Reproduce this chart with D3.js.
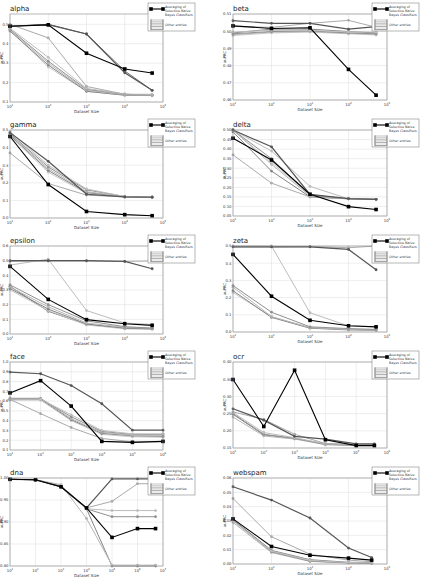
<!DOCTYPE html>
<html>
<head>
<meta charset="utf-8">
<script src="https://cdn.jsdelivr.net/npm/d3@7"></script>
<style>
body { margin: 0; background: #fff; }
text { font-family: "DejaVu Sans", sans-serif; }
</style>
</head>
<body>
<div id="chart"></div>
<script>
// dataset sizes (x values)
var sizes5 = [10, 100, 1000, 10000, 52000];
var sizesWeb = [10, 100, 1000, 10000, 40000];
var sizesFace = [10, 100, 1000, 10000, 100000, 1000000];
var sizesOcr = [10, 100, 1000, 10000, 100000, 390000];
var sizesDna = [10, 100, 1000, 10000, 100000, 1000000, 5100000];

// auPRC values: "avg" = Averaging of Selective Naive Bayes Classifiers, "other" = other entries
var alphaAvg = [0.49, 0.497, 0.351, 0.27, 0.249];
var alphaOther = [
  [0.49, 0.498, 0.45, 0.25, 0.16],
  [0.50, 0.43, 0.18, 0.14, 0.135],
  [0.48, 0.33, 0.17, 0.14, 0.14],
  [0.475, 0.31, 0.165, 0.14, 0.135],
  [0.47, 0.30, 0.16, 0.138, 0.135],
  [0.465, 0.29, 0.155, 0.135, 0.135],
  [0.47, 0.28, 0.155, 0.135, 0.133],
  [0.49, 0.50, 0.45, 0.26, 0.16]
];
var betaAvg = [0.5031, 0.5016, 0.502, 0.4778, 0.4628];
var betaOther = [
  [0.5061, 0.5046, 0.5046, 0.5012, 0.5027],
  [0.5028, 0.5022, 0.5046, 0.5063, 0.5023],
  [0.4995, 0.5005, 0.5005, 0.4996, 0.4995],
  [0.4985, 0.4998, 0.5002, 0.4990, 0.4985],
  [0.4980, 0.4995, 0.4998, 0.4988, 0.4982],
  [0.4990, 0.5012, 0.5012, 0.4998, 0.4990],
  [0.4975, 0.4990, 0.4995, 0.4985, 0.4978]
];
var gammaAvg = [0.463, 0.19, 0.037, 0.019, 0.013];
var gammaOther = [
  [0.485, 0.322, 0.135, 0.12, 0.118],
  [0.37, 0.196, 0.13, 0.12, 0.118],
  [0.49, 0.30, 0.165, 0.122, 0.118],
  [0.48, 0.29, 0.16, 0.122, 0.118],
  [0.475, 0.28, 0.15, 0.12, 0.118],
  [0.47, 0.27, 0.145, 0.12, 0.118],
  [0.465, 0.26, 0.14, 0.12, 0.118]
];
var deltaAvg = [0.457, 0.343, 0.164, 0.099, 0.084];
var deltaOther = [
  [0.50, 0.412, 0.163, 0.141, 0.137],
  [0.37, 0.222, 0.15, 0.14, 0.137],
  [0.50, 0.39, 0.205, 0.14, 0.137],
  [0.50, 0.35, 0.16, 0.14, 0.137],
  [0.50, 0.32, 0.155, 0.14, 0.137],
  [0.49, 0.285, 0.15, 0.14, 0.137],
  [0.50, 0.33, 0.16, 0.14, 0.137]
];
var epsilonAvg = [0.461, 0.236, 0.098, 0.07, 0.059];
var epsilonOther = [
  [0.50, 0.50, 0.50, 0.495, 0.445],
  [0.495, 0.497, 0.497, 0.495, 0.498],
  [0.47, 0.51, 0.16, 0.075, 0.065],
  [0.335, 0.20, 0.09, 0.05, 0.04],
  [0.32, 0.185, 0.075, 0.045, 0.04],
  [0.31, 0.17, 0.068, 0.04, 0.035],
  [0.30, 0.16, 0.062, 0.035, 0.032],
  [0.325, 0.155, 0.065, 0.04, 0.035]
];
var zetaAvg = [0.451, 0.208, 0.068, 0.036, 0.03];
var zetaOther = [
  [0.495, 0.495, 0.495, 0.48, 0.362],
  [0.495, 0.495, 0.497, 0.49, 0.50],
  [0.50, 0.50, 0.112, 0.035, 0.03],
  [0.27, 0.115, 0.03, 0.02, 0.015],
  [0.26, 0.09, 0.025, 0.015, 0.012],
  [0.24, 0.085, 0.022, 0.012, 0.01],
  [0.23, 0.088, 0.025, 0.015, 0.012]
];
var faceAvg = [0.684, 0.809, 0.549, 0.188, 0.178, 0.188];
var faceOther = [
  [0.897, 0.88, 0.759, 0.573, 0.303, 0.303],
  [0.617, 0.472, 0.33, 0.218, 0.184, 0.184],
  [0.62, 0.62, 0.46, 0.30, 0.265, 0.265],
  [0.625, 0.625, 0.44, 0.29, 0.26, 0.26],
  [0.63, 0.63, 0.42, 0.28, 0.25, 0.25],
  [0.62, 0.62, 0.41, 0.27, 0.245, 0.24],
  [0.61, 0.61, 0.40, 0.26, 0.235, 0.23]
];
var ocrAvg = [0.349, 0.2125, 0.376, 0.174, 0.157, 0.157];
var ocrOther = [
  [0.264, 0.231, 0.184, 0.176, 0.162, 0.162],
  [0.255, 0.233, 0.19, 0.163, 0.16, 0.16],
  [0.253, 0.195, 0.18, 0.162, 0.16, 0.16],
  [0.25, 0.19, 0.178, 0.16, 0.158, 0.158],
  [0.24, 0.185, 0.176, 0.16, 0.157, 0.157],
  [0.248, 0.188, 0.178, 0.162, 0.159, 0.158]
];
var dnaAvg = [0.997, 0.996, 0.98, 0.932, 0.865, 0.885, 0.885];
var dnaOther = [
  [0.997, 0.996, 0.98, 0.932, 0.998, 0.998, 0.998],
  [0.997, 0.996, 0.982, 0.932, 0.947, 0.987, 0.987],
  [0.997, 0.996, 0.983, 0.93, 0.926, 0.926, 0.926],
  [0.997, 0.996, 0.98, 0.93, 0.912, 0.912, 0.912],
  [0.997, 0.996, 0.985, 0.908, 0.802, 0.802, 0.802],
  [0.997, 0.996, 0.98, 0.93, 0.80, 0.80, 0.80]
];
var webspamAvg = [0.0315, 0.0122, 0.0061, 0.0041, 0.0027];
var webspamOther = [
  [0.0539, 0.0446, 0.0321, 0.0111, 0.0045],
  [0.0457, 0.019, 0.0068, 0.0027, 0.0016],
  [0.030, 0.009, 0.0025, 0.001, 0.0008],
  [0.0305, 0.0085, 0.002, 0.0008, 0.0005],
  [0.029, 0.008, 0.0018, 0.0007, 0.0005],
  [0.031, 0.0095, 0.003, 0.0012, 0.001]
];

// axis ticks
var exps5 = [1, 2, 3, 4, 5];
var exps6 = [1, 2, 3, 4, 5, 6];
var exps7 = [1, 2, 3, 4, 5, 6, 7];
var titles = ["alpha", "beta", "gamma", "delta", "epsilon", "zeta", "face", "ocr", "dna", "webspam"];
var legendAvg = ["Averaging of", "Selective Naive", "Bayes Classifiers"];
var legendOther = "Other entries";

// shades used for the "other entries"
var shades = ["#555", "#aaa", "#bdbdbd", "#909090", "#b5b5b5", "#858585", "#c8c8c8", "#707070"];

var panels = [
  {x: sizes5, avg: alphaAvg, other: alphaOther, yd: [0.1, 0.553], yt: d3.range(0.1, 0.51, 0.1), fmt: ".1f", xe: exps5},
  {x: sizes5, avg: betaAvg, other: betaOther, yd: [0.46, 0.51], yt: d3.range(0.46, 0.5101, 0.01), fmt: ".2f", xe: exps5},
  {x: sizes5, avg: gammaAvg, other: gammaOther, yd: [0, 0.5], yt: d3.range(0, 0.51, 0.1), fmt: ".1f", xe: exps5},
  {x: sizes5, avg: deltaAvg, other: deltaOther, yd: [0.05, 0.5], yt: d3.range(0.05, 0.501, 0.05), fmt: ".2f", xe: exps5},
  {x: sizes5, avg: epsilonAvg, other: epsilonOther, yd: [0, 0.6], yt: d3.range(0, 0.61, 0.1), fmt: ".1f", xe: exps5},
  {x: sizes5, avg: zetaAvg, other: zetaOther, yd: [0, 0.5], yt: d3.range(0, 0.51, 0.1), fmt: ".1f", xe: exps5},
  {x: sizesFace, avg: faceAvg, other: faceOther, yd: [0.1, 1.0], yt: d3.range(0.1, 1.01, 0.1), fmt: ".1f", xe: exps6},
  {x: sizesOcr, avg: ocrAvg, other: ocrOther, yd: [0.15, 0.40], yt: d3.range(0.15, 0.401, 0.05), fmt: ".2f", xe: exps6},
  {x: sizesDna, avg: dnaAvg, other: dnaOther, yd: [0.80, 1.0], yt: d3.range(0.80, 1.001, 0.05), fmt: ".2f", xe: exps7},
  {x: sizesWeb, avg: webspamAvg, other: webspamOther, yd: [0, 0.06], yt: d3.range(0, 0.0601, 0.01), fmt: ".2f", xe: exps5}
];

var svg = d3.select("#chart").append("svg").attr("width", 422).attr("height", 580);

panels.forEach(function(p, i) {
  var col = i % 2, row = Math.floor(i / 2);
  var left = col ? 22 : 10, right = col ? 176 : 163;
  var top = 14, bottom = col ? 100 : 102;
  var g = svg.append("g").attr("transform", "translate(" + (col * 211) + "," + (row * 116) + ")");

  var xe = p.xe;
  var x = d3.scaleLog().domain([Math.pow(10, xe[0]), Math.pow(10, xe[xe.length - 1])]).range([left, right]);
  var y = d3.scaleLinear().domain(p.yd).range([bottom, top]);

  // grid
  g.selectAll(".gx").data(xe).enter().append("line")
    .attr("x1", d => x(Math.pow(10, d))).attr("x2", d => x(Math.pow(10, d)))
    .attr("y1", top).attr("y2", bottom)
    .attr("stroke", "#ddd").attr("stroke-width", 0.5);
  g.selectAll(".gy").data(p.yt).enter().append("line")
    .attr("x1", left).attr("x2", right)
    .attr("y1", d => y(d)).attr("y2", d => y(d))
    .attr("stroke", "#ddd").attr("stroke-width", 0.5);

  var line = d3.line().x((d, j) => x(p.x[j])).y(d => y(d));

  // other entries, drawn lightest first
  var order = p.other.map((s, k) => k).reverse();
  order.forEach(function(k) {
    var s = p.other[k], c = shades[k % shades.length];
    g.append("path").datum(s).attr("d", line)
      .attr("fill", "none").attr("stroke", c).attr("stroke-width", k == 0 ? 1.2 : 1);
    g.selectAll(null).data(s).enter().append("circle")
      .attr("cx", (d, j) => x(p.x[j])).attr("cy", d => y(d))
      .attr("r", 1.4).attr("fill", c);
  });

  // averaging line
  g.append("path").datum(p.avg).attr("d", line)
    .attr("fill", "none").attr("stroke", "#000").attr("stroke-width", 1.1);
  g.selectAll(null).data(p.avg).enter().append("rect")
    .attr("x", (d, j) => x(p.x[j]) - 1.8).attr("y", d => y(d) - 1.8)
    .attr("width", 3.6).attr("height", 3.6).attr("fill", "#000");

  // frame
  g.append("rect").attr("x", left).attr("y", top)
    .attr("width", right - left).attr("height", bottom - top)
    .attr("fill", "none").attr("stroke", "#888").attr("stroke-width", 0.6);

  // y ticks
  var yf = d3.format(p.fmt);
  g.selectAll(".yl").data(p.yt).enter().append("text")
    .attr("x", left - 1.5).attr("y", d => y(d) + 1.3)
    .attr("text-anchor", "end").attr("font-size", 3.8).attr("fill", "#333")
    .text(d => yf(d));

  // x ticks with exponent
  var xl = g.selectAll(".xl").data(xe).enter().append("text")
    .attr("x", d => x(Math.pow(10, d))).attr("y", bottom + 5.5)
    .attr("text-anchor", "middle").attr("font-size", 3.8).attr("fill", "#333");
  xl.append("tspan").text("10");
  xl.append("tspan").attr("dy", -1.6).attr("font-size", 2.6).text(d => d);

  // axis labels
  g.append("text").attr("x", (left + right) / 2).attr("y", bottom + 10.5)
    .attr("text-anchor", "middle").attr("font-size", 4).attr("fill", "#333").text("Dataset Size");
  g.append("text").attr("transform", "translate(" + (left - 7) + "," + ((top + bottom) / 2) + ") rotate(-90)")
    .attr("text-anchor", "middle").attr("font-size", 3.8).attr("fill", "#333").text("auPRC");

  // title
  g.append("text").attr("x", left).attr("y", 11).attr("font-size", 7).attr("fill", "#222").text(titles[i]);

  // legend
  var lx = right - 15, ly = 3;
  var lg = g.append("g").attr("transform", "translate(" + lx + "," + ly + ")");
  lg.append("rect").attr("width", 47).attr("height", 28)
    .attr("fill", "#fff").attr("stroke", "#888").attr("stroke-width", 0.6);
  lg.append("line").attr("x1", 3).attr("x2", 15).attr("y1", 6).attr("y2", 6)
    .attr("stroke", "#000").attr("stroke-width", 1.1);
  [3, 15].forEach(function(px) {
    lg.append("rect").attr("x", px - 1.8).attr("y", 4.2).attr("width", 3.6).attr("height", 3.6).attr("fill", "#000");
  });
  lg.selectAll(".lt").data(legendAvg).enter().append("text")
    .attr("x", 17).attr("y", (d, j) => 4.5 + j * 4)
    .attr("font-size", 3.3).attr("fill", "#333").text(d => d);
  d3.range(7).forEach(function(k) {
    var yy = 17 + k * 1.6;
    lg.append("line").attr("x1", 3).attr("x2", 15).attr("y1", yy).attr("y2", yy)
      .attr("stroke", shades[(k + 1) % shades.length]).attr("stroke-width", 0.7);
  });
  lg.append("rect").attr("x", 2.3).attr("y", 16.3).attr("width", 1.4).attr("height", 10.9).attr("fill", "#999");
  lg.append("rect").attr("x", 14.3).attr("y", 16.3).attr("width", 1.4).attr("height", 10.9).attr("fill", "#999");
  lg.append("text").attr("x", 17).attr("y", 23).attr("font-size", 3.3).attr("fill", "#333").text(legendOther);
});
</script>
</body>
</html>
